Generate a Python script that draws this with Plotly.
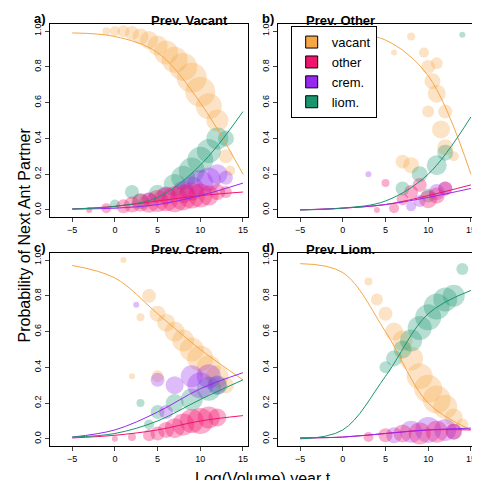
import plotly.graph_objects as go
from plotly.subplots import make_subplots

colors = {"vacant": "rgba(245,166,70,0.45)", "other": "rgba(240,20,110,0.5)",
          "crem.": "rgba(150,40,240,0.45)", "liom.": "rgba(25,150,110,0.45)"}
lines = {"vacant": "#F5A646", "other": "#F0146E", "crem.": "#9628F0", "liom.": "#19966E"}

curve_x = [-5, 0, 5, 10, 15]
curves = {
    "a": {"vacant": [0.99, 0.97, 0.88, 0.6, 0.2], "liom.": [0.005, 0.02, 0.07, 0.25, 0.55],
          "crem.": [0.005, 0.01, 0.03, 0.08, 0.15], "other": [0.005, 0.02, 0.05, 0.08, 0.1]},
    "b": {"vacant": [1.0, 0.99, 0.95, 0.75, 0.2], "liom.": [0.0, 0.01, 0.05, 0.2, 0.52],
          "crem.": [0.0, 0.01, 0.03, 0.07, 0.12], "other": [0.0, 0.01, 0.03, 0.08, 0.14]},
    "c": {"vacant": [0.97, 0.9, 0.7, 0.5, 0.33], "liom.": [0.01, 0.03, 0.1, 0.22, 0.33],
          "crem.": [0.01, 0.05, 0.15, 0.28, 0.37], "other": [0.005, 0.02, 0.05, 0.1, 0.13]},
    "d": {"vacant": [0.98, 0.93, 0.6, 0.2, 0.05], "liom.": [0.0, 0.05, 0.35, 0.7, 0.83],
          "crem.": [0.005, 0.01, 0.03, 0.05, 0.06], "other": [0.005, 0.01, 0.03, 0.05, 0.05]},
}

# bubbles: (x, y, size)
points = {
    "a": {
        "vacant": [(-1, 1.0, 8), (0, 1.0, 10), (1, 1.0, 12), (2, 0.99, 14), (3, 0.97, 16), (4, 0.95, 18),
                   (5, 0.92, 20), (6, 0.88, 24), (7, 0.84, 26), (8, 0.8, 28), (9, 0.74, 30), (10, 0.66, 30),
                   (11, 0.58, 26), (12, 0.5, 22), (13, 0.3, 14), (13.5, 0.22, 10)],
        "liom.": [(3, 0.05, 16), (5, 0.09, 18), (7, 0.14, 22), (8, 0.18, 24), (9, 0.22, 26), (10, 0.28, 26),
                  (11, 0.33, 24), (12, 0.4, 22), (13, 0.4, 16), (2, 0.1, 14), (0, 0.03, 10)],
        "crem.": [(4, 0.06, 14), (6, 0.08, 18), (8, 0.1, 22), (9, 0.12, 24), (10, 0.15, 26), (11, 0.17, 24),
                  (12, 0.2, 20), (13, 0.18, 14)],
        "other": [(-3, 0.0, 6), (-1, 0.01, 10), (1, 0.02, 14), (2, 0.03, 16), (3, 0.04, 18), (4, 0.04, 20),
                  (5, 0.05, 22), (6, 0.06, 24), (7, 0.06, 26), (8, 0.07, 26), (9, 0.08, 26), (10, 0.08, 24),
                  (11, 0.08, 20), (12, 0.1, 16), (13, 0.1, 12)],
    },
    "b": {
        "vacant": [(8, 0.97, 8), (9.5, 0.88, 10), (10, 0.8, 14), (11, 0.82, 12), (10.5, 0.72, 16),
                   (11, 0.65, 18), (12, 0.55, 14), (11.5, 0.45, 18), (12, 0.35, 16), (7, 0.27, 14),
                   (8, 0.25, 16), (10, 0.55, 12), (13, 0.3, 10), (6, 0.88, 6)],
        "liom.": [(14, 0.98, 6), (7, 0.12, 14), (9, 0.2, 16), (11, 0.25, 20), (12, 0.32, 16), (10, 0.08, 14)],
        "crem.": [(3, 0.2, 6), (9, 0.05, 12), (11, 0.1, 16), (12, 0.12, 14), (8, 0.02, 10)],
        "other": [(4, 0.0, 6), (6, 0.01, 10), (7, 0.06, 12), (8, 0.1, 14), (9, 0.14, 14), (10, 0.06, 18),
                  (11, 0.08, 16), (12, 0.12, 14), (5, 0.15, 8)],
    },
    "c": {
        "vacant": [(1, 1.0, 6), (4, 0.8, 14), (5, 0.7, 16), (6, 0.65, 18), (7, 0.6, 20), (8, 0.55, 22),
                   (9, 0.5, 24), (10, 0.45, 26), (11, 0.4, 24), (12, 0.35, 22), (13, 0.3, 16), (5, 0.35, 12),
                   (3, 0.68, 8), (2, 0.35, 6)],
        "liom.": [(3, 0.2, 8), (5, 0.15, 14), (7, 0.2, 18), (9, 0.22, 22), (11, 0.28, 24), (12, 0.3, 20),
                  (4, 0.08, 10)],
        "crem.": [(2.5, 0.75, 6), (5, 0.33, 14), (7, 0.3, 18), (9, 0.35, 22), (10, 0.3, 26), (11, 0.35, 24),
                  (12, 0.3, 18), (6, 0.15, 14)],
        "other": [(0, 0.0, 6), (2, 0.01, 8), (4, 0.02, 12), (5, 0.03, 14), (6, 0.05, 16), (7, 0.06, 20),
                  (8, 0.08, 22), (9, 0.1, 24), (10, 0.1, 26), (11, 0.12, 22), (12, 0.12, 18)],
    },
    "d": {
        "vacant": [(3, 0.88, 8), (4, 0.78, 12), (5, 0.7, 14), (6, 0.6, 18), (7, 0.55, 20), (8, 0.45, 24),
                   (9, 0.35, 26), (10, 0.28, 28), (11, 0.22, 28), (12, 0.18, 24), (13, 0.12, 18), (14, 0.08, 12)],
        "liom.": [(5, 0.4, 12), (6, 0.45, 16), (7, 0.5, 18), (8, 0.55, 22), (9, 0.62, 24), (10, 0.68, 26),
                  (11, 0.74, 26), (12, 0.78, 24), (13, 0.8, 22), (14, 0.95, 12)],
        "crem.": [(6, 0.02, 16), (8, 0.04, 22), (10, 0.05, 26), (12, 0.05, 22), (13, 0.04, 16)],
        "other": [(3, 0.01, 10), (5, 0.02, 14), (7, 0.03, 18), (9, 0.03, 22), (11, 0.04, 22), (13, 0.04, 16)],
    },
}

titles = {"a": "Prev. Vacant", "b": "Prev. Other", "c": "Prev. Crem.", "d": "Prev. Liom."}
order = ["vacant", "other", "crem.", "liom."]

fig = make_subplots(rows=2, cols=2, horizontal_spacing=0.07, vertical_spacing=0.085)
for i, p in enumerate(["a", "b", "c", "d"]):
    r, c = i // 2 + 1, i % 2 + 1
    for s in ["vacant", "liom.", "crem.", "other"]:
        pts = points[p][s]
        fig.add_trace(go.Scatter(x=[q[0] for q in pts], y=[q[1] for q in pts], mode="markers",
                                 marker=dict(size=[q[2] for q in pts], color=colors[s], line_width=0),
                                 showlegend=False), row=r, col=c)
    for s in order:
        fig.add_trace(go.Scatter(x=curve_x, y=curves[p][s], mode="lines", line=dict(color=lines[s], width=1,
                                 shape="spline"), showlegend=False), row=r, col=c)
    fig.update_xaxes(range=[-7.6, 15.6], tickvals=[-5, 0, 5, 10, 15], row=r, col=c)
    fig.update_yaxes(range=[-0.04, 1.04], tickvals=[0, 0.2, 0.4, 0.6, 0.8, 1.0],
                     ticktext=["0.0", "0.2", "0.4", "0.6", "0.8", "1.0"], tickangle=-90,
                     showticklabels=True, row=r, col=c)
    xd = fig.layout["xaxis" + ("" if i == 0 else str(i + 1))].domain
    yd = fig.layout["yaxis" + ("" if i == 0 else str(i + 1))].domain
    fig.add_annotation(x=xd[0], y=yd[1], xref="paper", yref="paper", text="<b>%s)</b>" % p,
                       showarrow=False, xanchor="right", yanchor="bottom", font=dict(size=13), xshift=-2,
                       yshift=-4)
    fig.add_annotation(x=(xd[0] + xd[1]) / 2, y=yd[1], xref="paper", yref="paper",
                       text="<b>%s</b>" % titles[p], showarrow=False, yanchor="bottom", yshift=-6,
                       font=dict(size=13))

for s in order:
    fig.add_trace(go.Scatter(x=[None], y=[None], mode="markers", name=s,
                             marker=dict(symbol="square", size=12, color=lines[s], line=dict(color="black", width=1))))

fig.update_xaxes(showline=True, mirror=True, linecolor="black", ticks="outside", ticklen=4,
                 showgrid=False, zeroline=False, tickfont=dict(size=9))
fig.update_yaxes(showline=True, mirror=True, linecolor="black", ticks="outside", ticklen=4,
                 showgrid=False, zeroline=False, tickfont=dict(size=9))
fig.add_annotation(x=0.5, y=0, xref="paper", yref="paper", text="Log(Volume) year t",
                   showarrow=False, yanchor="top", yshift=-22, font=dict(size=16))
fig.add_annotation(x=0, y=0.5, xref="paper", yref="paper", text="Probability of Next Ant Partner",
                   showarrow=False, textangle=-90, xanchor="right", xshift=-16, font=dict(size=16))
fig.update_layout(width=480, height=480, margin=dict(l=42, r=12, t=16, b=42),
                  plot_bgcolor="white", paper_bgcolor="white",
                  font=dict(family="Liberation Sans", color="black"),
                  legend=dict(x=0.565, y=0.995, xanchor="left", yanchor="top", bordercolor="black",
                              borderwidth=1, font=dict(size=13), bgcolor="white"))
fig.write_html("out.html")
